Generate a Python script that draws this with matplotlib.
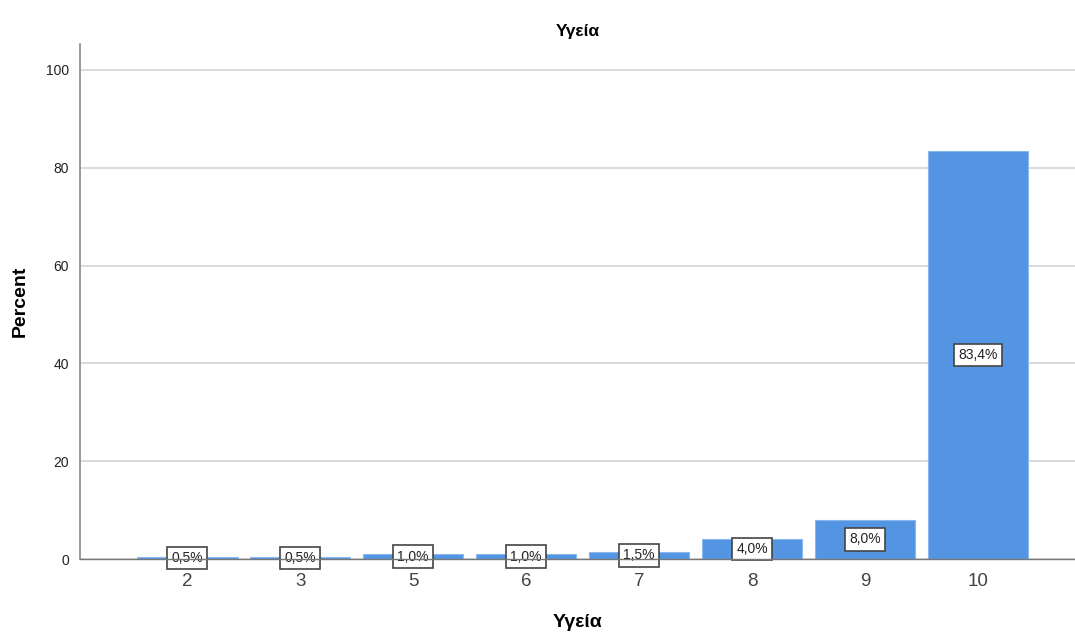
import matplotlib
matplotlib.use("Agg")
import matplotlib.pyplot as plt

categories = ["2", "3", "5", "6", "7", "8", "9", "10"]
percent = [0.5, 0.5, 1.0, 1.0, 1.5, 4.0, 8.0, 83.4]
labels = ["0,5%", "0,5%", "1,0%", "1,0%", "1,5%", "4,0%", "8,0%", "83,4%"]

plt.rcParams['font.family'] = ['Liberation Sans', 'DejaVu Sans']

fig = plt.figure(figsize=(10.75, 6.32), dpi=100)
ax = fig.add_axes([0.0744, 0.1155, 0.9256, 0.815])

x = list(range(len(categories)))
ax.bar(x, percent, width=0.89, color="#5495e3", edgecolor="#8ab8ee", linewidth=0.8, zorder=3)

for xi, v, lab in zip(x, percent, labels):
    ax.text(xi, v / 2, lab, ha="center", va="center", fontsize=10, color="#222222", zorder=4,
            bbox=dict(boxstyle="square,pad=0.3", facecolor="white", edgecolor="#444444", linewidth=1.2))

ax.set_xlim(-0.95, 7.86)
ax.set_ylim(0, 105.3)
ax.set_yticks([0, 20, 40, 60, 80, 100])
ax.set_xticks(x)
ax.set_xticklabels(categories, fontsize=13.5, color="#444444")
ax.tick_params(axis="y", labelsize=10, length=0, pad=8, labelcolor="#222222")
ax.tick_params(axis="x", length=0, pad=10)
ax.grid(axis="y", color="#d4d4d4", linewidth=1.2, zorder=0)

for s in ["top", "right"]:
    ax.spines[s].set_visible(False)
ax.spines["left"].set_color("#888888")
ax.spines["left"].set_linewidth(1.2)
ax.spines["bottom"].set_color("#777777")
ax.spines["bottom"].set_linewidth(1.0)
ax.spines["bottom"].set_zorder(5)

ax.set_title("Υγεία", fontsize=12.5, fontweight="bold", pad=6)
ax.set_xlabel("Υγεία", fontsize=14, fontweight="bold", labelpad=17)
ax.set_ylabel("Percent", fontsize=14, fontweight="bold", labelpad=12)

fig.savefig("out.png", dpi=100)
